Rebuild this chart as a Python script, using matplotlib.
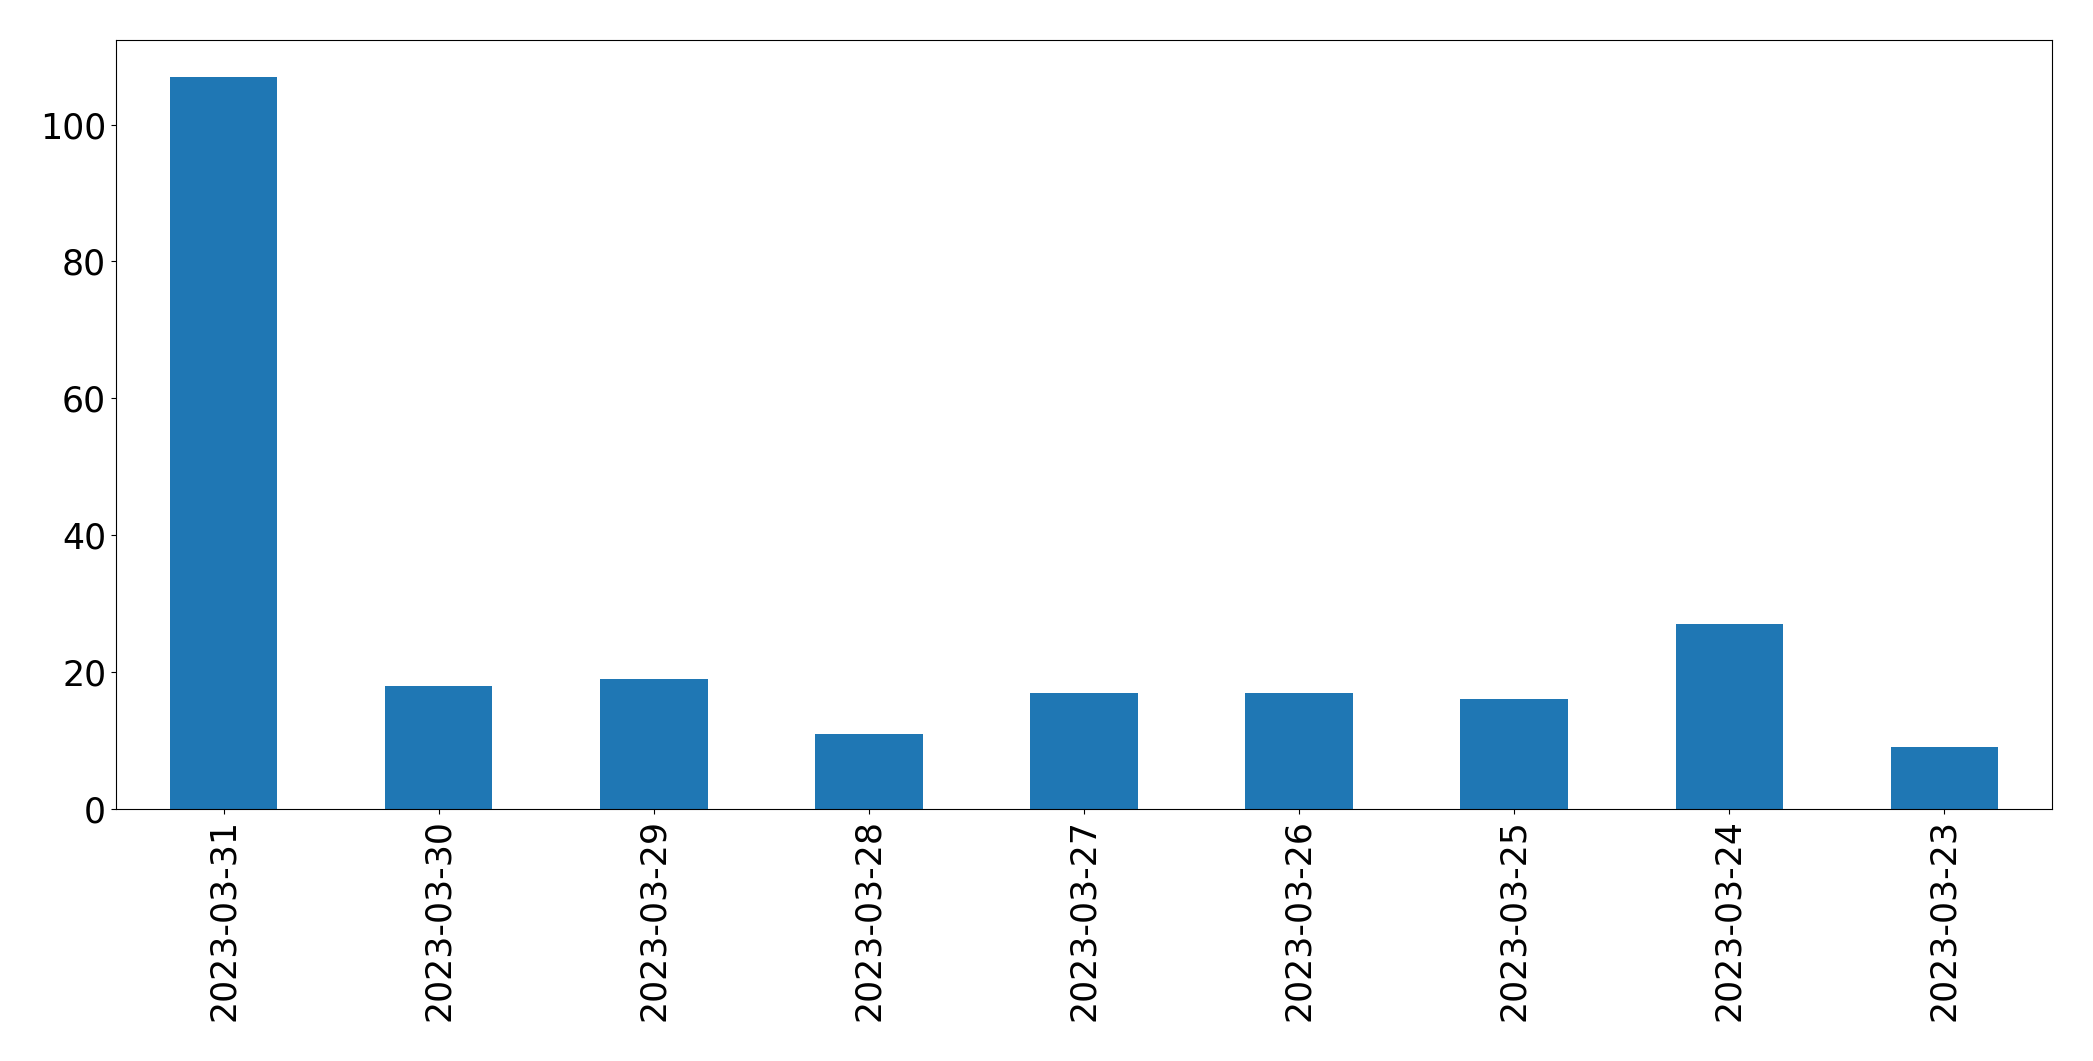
import matplotlib
matplotlib.use("Agg")
import matplotlib.pyplot as plt
import pandas as pd

# daily counts, newest first (as in the reference)
dates = ["2023-03-31", "2023-03-30", "2023-03-29", "2023-03-28", "2023-03-27",
         "2023-03-26", "2023-03-25", "2023-03-24", "2023-03-23"]
counts = [107, 18, 19, 11, 17, 17, 16, 27, 9]

series = pd.Series(counts, index=dates)

fig, ax = plt.subplots(figsize=(20.93, 10.61), dpi=100)
series.plot(kind="bar", ax=ax, color="#1f77b4", width=0.5)
ax.tick_params(axis="both", labelsize=25)
fig.subplots_adjust(left=0.0554, right=0.9804, top=0.9623, bottom=0.2375)
fig.savefig("out.png", dpi=100)
